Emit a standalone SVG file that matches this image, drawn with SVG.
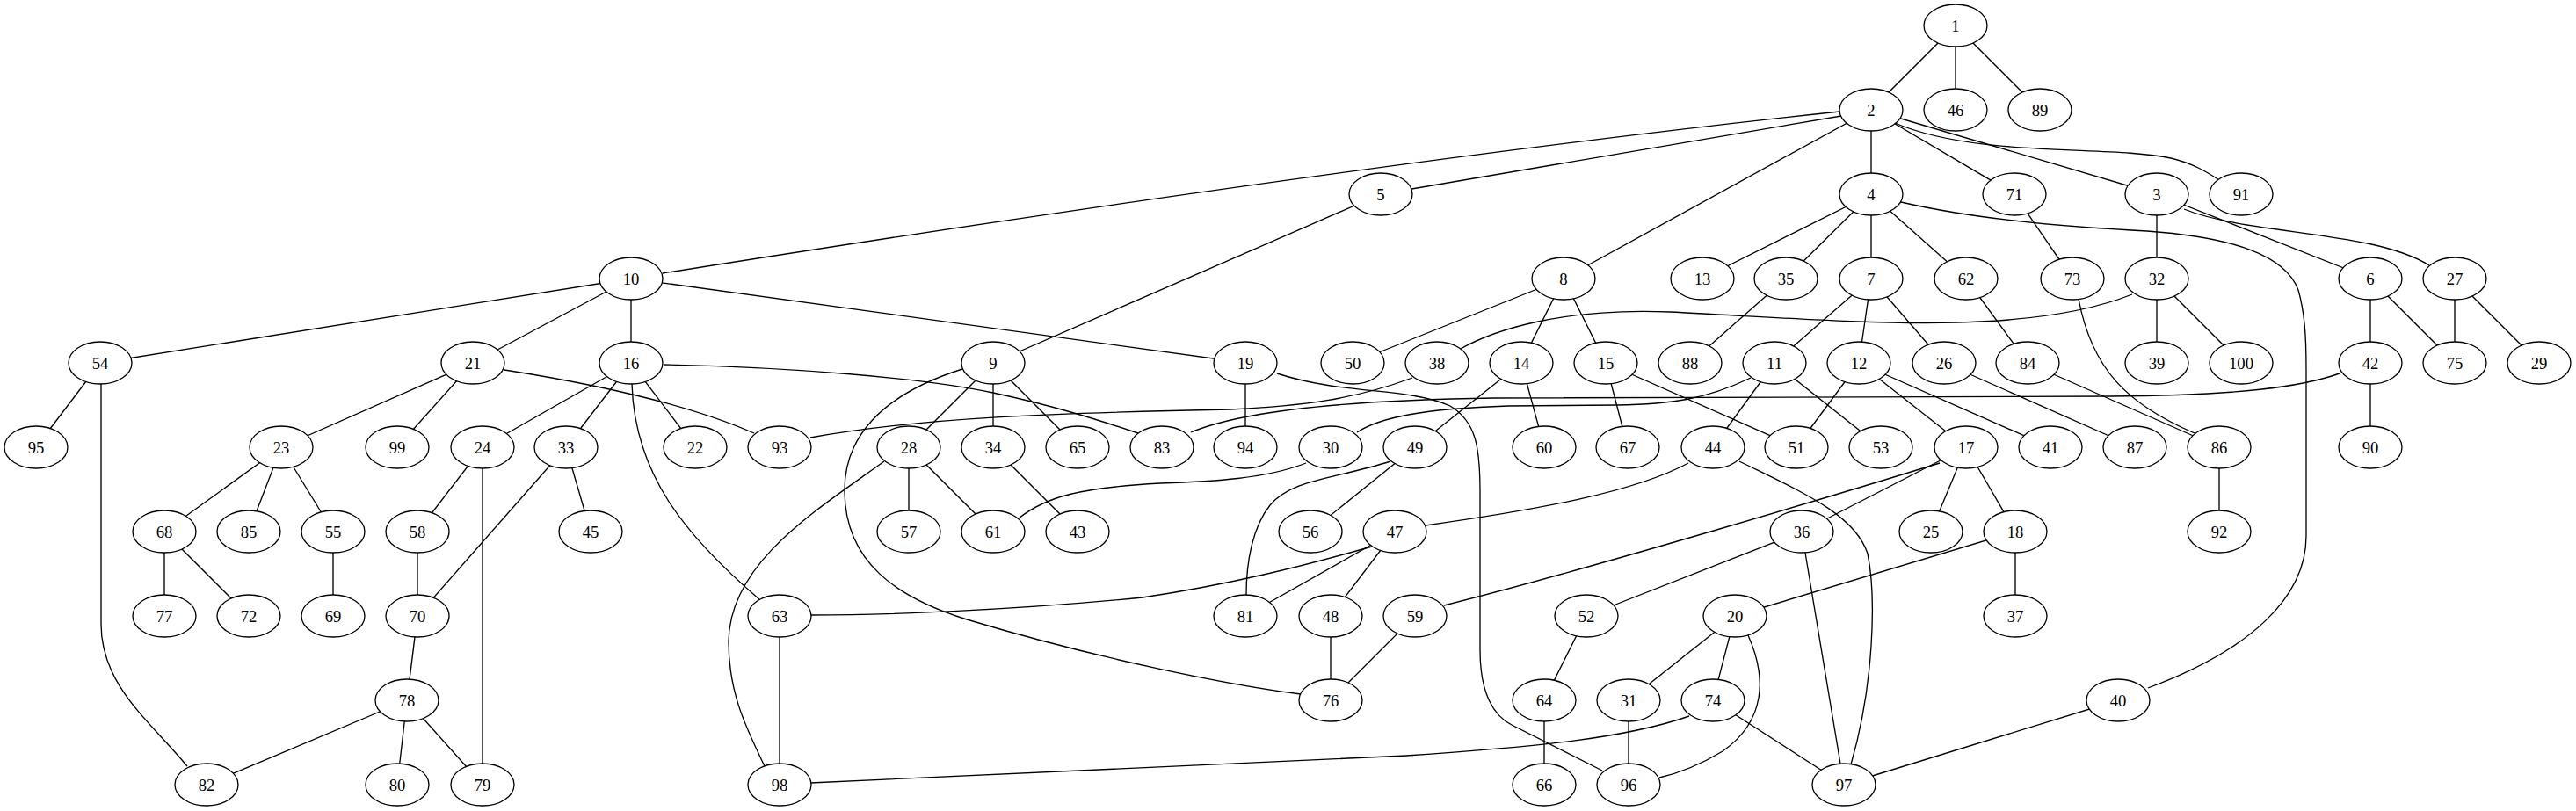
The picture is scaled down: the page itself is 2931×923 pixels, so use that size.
<svg xmlns="http://www.w3.org/2000/svg" width="2931" height="923" viewBox="0 0 2931 923">
<style>
.n ellipse{fill:#fff;stroke:#000;stroke-width:1.33}
.n text{font-family:"Liberation Serif","Times New Roman",serif;font-size:18.67px;text-anchor:middle;fill:#000}
#edges path{fill:none;stroke:#000;stroke-width:1.33}
</style>
<rect width="2931" height="923" fill="#fff"/>
<g id="edges">
<path d="M2225,29L2129,125"/><path d="M2225,29L2225,125"/><path d="M2225,29L2321,125"/>
<path d="M2095,132L1571,221"/><path d="M2093,127Q1550,185 754,311"/><path d="M2129,125L1779,317"/>
<path d="M2129,125L2129,221"/><path d="M2129,125L2292,221"/><path d="M2129,125L2454,221"/>
<path d="M2156,140C2250,180 2400,165 2470,180C2495,186 2510,195 2525,205"/>
<path d="M1571,221L1130,413"/>
<path d="M2129,221L1937,317"/><path d="M2129,221L2032,317"/><path d="M2129,221L2129,317"/><path d="M2129,221L2237,317"/>
<path d="M2163,230C2250,250 2350,258 2443,263C2540,270 2600,290 2615,330C2622,355 2624,380 2624,420L2624,610C2624,680 2560,740 2444,783"/>
<path d="M2454,221L2454,317"/><path d="M2454,221L2697,317"/>
<path d="M2485,238C2560,268 2700,262 2764,302"/>
<path d="M2292,221L2358,317"/>
<path d="M718,317L114,413"/><path d="M718,317L538,413"/><path d="M718,317L718,413"/><path d="M718,317L1417,413"/>
<path d="M1779,317L1539,413"/><path d="M1779,317L1731,413"/><path d="M1779,317L1827,413"/>
<path d="M2032,317L1923,413"/>
<path d="M2129,317L2019,413"/><path d="M2129,317L2115,413"/><path d="M2129,317L2212,413"/>
<path d="M2237,317L2307,413"/>
<path d="M2365,340C2380,420 2420,460 2497,493"/>
<path d="M2426,335C2300,385 2100,365 1900,355C1780,350 1700,375 1660,398"/>
<path d="M2454,317L2454,413"/><path d="M2454,317L2550,413"/>
<path d="M2697,317L2697,413"/><path d="M2697,317L2793,413"/>
<path d="M2793,317L2793,413"/><path d="M2793,317L2889,413"/>
<path d="M114,413L41,509"/>
<path d="M115,437L115,710C115,780 170,820 213,872"/>
<path d="M538,413L320,509"/><path d="M538,413L452,509"/>
<path d="M574,421Q760,450 858,493"/>
<path d="M718,413L549,509"/><path d="M718,413L644,509"/><path d="M718,413L791,509"/>
<path d="M719,437C722,540 780,610 865,683"/>
<path d="M755,415C900,418 1050,430 1130,447C1200,462 1250,478 1295,493"/>
<path d="M1130,413L1034,509"/><path d="M1130,413L1130,509"/><path d="M1130,413L1226,509"/>
<path d="M1095,420C1000,450 960,500 961,560C962,640 1020,680 1100,705C1250,750 1400,780 1480,790"/>
<path d="M1417,413L1417,509"/>
<path d="M1453,425C1530,450 1600,440 1650,462C1680,480 1684,510 1684,560L1684,740C1684,790 1700,815 1720,825L1823,877"/>
<path d="M1607,430C1540,455 1480,462 1400,466C1200,470 1050,475 922,498"/>
<path d="M1731,413L1610,509"/><path d="M1731,413L1757,509"/>
<path d="M1827,413L1852,509"/><path d="M1827,413L2044,509"/>
<path d="M2019,413L1949,509"/><path d="M2019,413L2140,509"/>
<path d="M1992,430C1940,455 1900,460 1840,461L1716,462C1620,465 1570,475 1544,492"/>
<path d="M2115,413L2044,509"/><path d="M2115,413L2237,509"/><path d="M2115,413L2333,509"/>
<path d="M2212,413L2429,509"/>
<path d="M2307,413L2525,509"/>
<path d="M2662,425C2620,440 2550,450 2400,451L1700,453C1560,455 1420,465 1355,492"/>
<path d="M2697,413L2697,509"/>
<path d="M2525,509L2525,605"/>
<path d="M320,509L187,605"/><path d="M320,509L283,605"/><path d="M320,509L379,605"/>
<path d="M549,509L475,605"/><path d="M549,509L549,893"/>
<path d="M644,509L475,701"/><path d="M644,509L672,605"/>
<path d="M1034,509L1034,605"/><path d="M1034,509L1130,605"/>
<path d="M1006,525C930,580 830,640 829,730C829,790 850,830 870,872"/>
<path d="M1130,509L1226,605"/>
<path d="M1486,527C1440,545 1380,548 1320,550C1230,555 1190,565 1159,590"/>
<path d="M1610,509L1491,605"/>
<path d="M1582,525C1520,545 1470,545 1445,575C1425,600 1418,640 1418,677"/>
<path d="M1921,527C1860,560 1750,580 1622,598"/>
<path d="M1979,525C2050,560 2110,585 2125,630C2135,680 2132,780 2106,870"/>
<path d="M2207,527C2100,560 1800,650 1643,689"/>
<path d="M2237,509L2050,605"/><path d="M2237,509L2197,605"/><path d="M2237,509L2293,605"/>
<path d="M1561,622C1480,645 1400,665 1300,680C1150,695 1000,700 923,700"/>
<path d="M1587,605L1417,701"/><path d="M1587,605L1514,701"/>
<path d="M2050,605L1805,701"/><path d="M2050,605L2098,893"/>
<path d="M2293,605L1974,701"/><path d="M2293,605L2293,701"/>
<path d="M187,605L187,701"/><path d="M187,605L283,701"/>
<path d="M379,605L379,701"/>
<path d="M475,605L475,701"/>
<path d="M475,701L463,797"/>
<path d="M887,701L887,893"/>
<path d="M1514,701L1514,797"/>
<path d="M1610,701L1514,797"/>
<path d="M1805,701L1757,797"/>
<path d="M1974,701L1853,797"/><path d="M1974,701L1949,797"/>
<path d="M1989,723C2010,770 2010,820 1960,855C1935,870 1910,880 1888,885"/>
<path d="M1757,797L1757,893"/>
<path d="M1853,797L1853,893"/>
<path d="M1922,815C1850,840 1750,850 1600,860C1300,875 1100,885 922,891"/>
<path d="M1949,797L2098,893"/>
<path d="M2410,797L2098,893"/>
<path d="M463,797L235,893"/><path d="M463,797L452,893"/><path d="M463,797L549,893"/>
</g>
<g id="node1" class="n"><ellipse cx="2225" cy="29" rx="36" ry="24"/><text x="2225" y="35.5">1</text></g>
<g id="node2" class="n"><ellipse cx="2129" cy="125" rx="36" ry="24"/><text x="2129" y="131.5">2</text></g>
<g id="node3" class="n"><ellipse cx="2454" cy="221" rx="36" ry="24"/><text x="2454" y="227.5">3</text></g>
<g id="node4" class="n"><ellipse cx="2129" cy="221" rx="36" ry="24"/><text x="2129" y="227.5">4</text></g>
<g id="node5" class="n"><ellipse cx="1571" cy="221" rx="36" ry="24"/><text x="1571" y="227.5">5</text></g>
<g id="node6" class="n"><ellipse cx="2697" cy="317" rx="36" ry="24"/><text x="2697" y="323.5">6</text></g>
<g id="node7" class="n"><ellipse cx="2129" cy="317" rx="36" ry="24"/><text x="2129" y="323.5">7</text></g>
<g id="node8" class="n"><ellipse cx="1779" cy="317" rx="36" ry="24"/><text x="1779" y="323.5">8</text></g>
<g id="node9" class="n"><ellipse cx="1130" cy="413" rx="36" ry="24"/><text x="1130" y="419.5">9</text></g>
<g id="node10" class="n"><ellipse cx="718" cy="317" rx="36" ry="24"/><text x="718" y="323.5">10</text></g>
<g id="node11" class="n"><ellipse cx="2019" cy="413" rx="36" ry="24"/><text x="2019" y="419.5">11</text></g>
<g id="node12" class="n"><ellipse cx="2115" cy="413" rx="36" ry="24"/><text x="2115" y="419.5">12</text></g>
<g id="node13" class="n"><ellipse cx="1937" cy="317" rx="36" ry="24"/><text x="1937" y="323.5">13</text></g>
<g id="node14" class="n"><ellipse cx="1731" cy="413" rx="36" ry="24"/><text x="1731" y="419.5">14</text></g>
<g id="node15" class="n"><ellipse cx="1827" cy="413" rx="36" ry="24"/><text x="1827" y="419.5">15</text></g>
<g id="node16" class="n"><ellipse cx="718" cy="413" rx="36" ry="24"/><text x="718" y="419.5">16</text></g>
<g id="node17" class="n"><ellipse cx="2237" cy="509" rx="36" ry="24"/><text x="2237" y="515.5">17</text></g>
<g id="node18" class="n"><ellipse cx="2293" cy="605" rx="36" ry="24"/><text x="2293" y="611.5">18</text></g>
<g id="node19" class="n"><ellipse cx="1417" cy="413" rx="36" ry="24"/><text x="1417" y="419.5">19</text></g>
<g id="node20" class="n"><ellipse cx="1974" cy="701" rx="36" ry="24"/><text x="1974" y="707.5">20</text></g>
<g id="node21" class="n"><ellipse cx="538" cy="413" rx="36" ry="24"/><text x="538" y="419.5">21</text></g>
<g id="node22" class="n"><ellipse cx="791" cy="509" rx="36" ry="24"/><text x="791" y="515.5">22</text></g>
<g id="node23" class="n"><ellipse cx="320" cy="509" rx="36" ry="24"/><text x="320" y="515.5">23</text></g>
<g id="node24" class="n"><ellipse cx="549" cy="509" rx="36" ry="24"/><text x="549" y="515.5">24</text></g>
<g id="node25" class="n"><ellipse cx="2197" cy="605" rx="36" ry="24"/><text x="2197" y="611.5">25</text></g>
<g id="node26" class="n"><ellipse cx="2212" cy="413" rx="36" ry="24"/><text x="2212" y="419.5">26</text></g>
<g id="node27" class="n"><ellipse cx="2793" cy="317" rx="36" ry="24"/><text x="2793" y="323.5">27</text></g>
<g id="node28" class="n"><ellipse cx="1034" cy="509" rx="36" ry="24"/><text x="1034" y="515.5">28</text></g>
<g id="node29" class="n"><ellipse cx="2889" cy="413" rx="36" ry="24"/><text x="2889" y="419.5">29</text></g>
<g id="node30" class="n"><ellipse cx="1514" cy="509" rx="36" ry="24"/><text x="1514" y="515.5">30</text></g>
<g id="node31" class="n"><ellipse cx="1853" cy="797" rx="36" ry="24"/><text x="1853" y="803.5">31</text></g>
<g id="node32" class="n"><ellipse cx="2454" cy="317" rx="36" ry="24"/><text x="2454" y="323.5">32</text></g>
<g id="node33" class="n"><ellipse cx="644" cy="509" rx="36" ry="24"/><text x="644" y="515.5">33</text></g>
<g id="node34" class="n"><ellipse cx="1130" cy="509" rx="36" ry="24"/><text x="1130" y="515.5">34</text></g>
<g id="node35" class="n"><ellipse cx="2032" cy="317" rx="36" ry="24"/><text x="2032" y="323.5">35</text></g>
<g id="node36" class="n"><ellipse cx="2050" cy="605" rx="36" ry="24"/><text x="2050" y="611.5">36</text></g>
<g id="node37" class="n"><ellipse cx="2293" cy="701" rx="36" ry="24"/><text x="2293" y="707.5">37</text></g>
<g id="node38" class="n"><ellipse cx="1635" cy="413" rx="36" ry="24"/><text x="1635" y="419.5">38</text></g>
<g id="node39" class="n"><ellipse cx="2454" cy="413" rx="36" ry="24"/><text x="2454" y="419.5">39</text></g>
<g id="node40" class="n"><ellipse cx="2410" cy="797" rx="36" ry="24"/><text x="2410" y="803.5">40</text></g>
<g id="node41" class="n"><ellipse cx="2333" cy="509" rx="36" ry="24"/><text x="2333" y="515.5">41</text></g>
<g id="node42" class="n"><ellipse cx="2697" cy="413" rx="36" ry="24"/><text x="2697" y="419.5">42</text></g>
<g id="node43" class="n"><ellipse cx="1226" cy="605" rx="36" ry="24"/><text x="1226" y="611.5">43</text></g>
<g id="node44" class="n"><ellipse cx="1949" cy="509" rx="36" ry="24"/><text x="1949" y="515.5">44</text></g>
<g id="node45" class="n"><ellipse cx="672" cy="605" rx="36" ry="24"/><text x="672" y="611.5">45</text></g>
<g id="node46" class="n"><ellipse cx="2225" cy="125" rx="36" ry="24"/><text x="2225" y="131.5">46</text></g>
<g id="node47" class="n"><ellipse cx="1587" cy="605" rx="36" ry="24"/><text x="1587" y="611.5">47</text></g>
<g id="node48" class="n"><ellipse cx="1514" cy="701" rx="36" ry="24"/><text x="1514" y="707.5">48</text></g>
<g id="node49" class="n"><ellipse cx="1610" cy="509" rx="36" ry="24"/><text x="1610" y="515.5">49</text></g>
<g id="node50" class="n"><ellipse cx="1539" cy="413" rx="36" ry="24"/><text x="1539" y="419.5">50</text></g>
<g id="node51" class="n"><ellipse cx="2044" cy="509" rx="36" ry="24"/><text x="2044" y="515.5">51</text></g>
<g id="node52" class="n"><ellipse cx="1805" cy="701" rx="36" ry="24"/><text x="1805" y="707.5">52</text></g>
<g id="node53" class="n"><ellipse cx="2140" cy="509" rx="36" ry="24"/><text x="2140" y="515.5">53</text></g>
<g id="node54" class="n"><ellipse cx="114" cy="413" rx="36" ry="24"/><text x="114" y="419.5">54</text></g>
<g id="node55" class="n"><ellipse cx="379" cy="605" rx="36" ry="24"/><text x="379" y="611.5">55</text></g>
<g id="node56" class="n"><ellipse cx="1491" cy="605" rx="36" ry="24"/><text x="1491" y="611.5">56</text></g>
<g id="node57" class="n"><ellipse cx="1034" cy="605" rx="36" ry="24"/><text x="1034" y="611.5">57</text></g>
<g id="node58" class="n"><ellipse cx="475" cy="605" rx="36" ry="24"/><text x="475" y="611.5">58</text></g>
<g id="node59" class="n"><ellipse cx="1610" cy="701" rx="36" ry="24"/><text x="1610" y="707.5">59</text></g>
<g id="node60" class="n"><ellipse cx="1757" cy="509" rx="36" ry="24"/><text x="1757" y="515.5">60</text></g>
<g id="node61" class="n"><ellipse cx="1130" cy="605" rx="36" ry="24"/><text x="1130" y="611.5">61</text></g>
<g id="node62" class="n"><ellipse cx="2237" cy="317" rx="36" ry="24"/><text x="2237" y="323.5">62</text></g>
<g id="node63" class="n"><ellipse cx="887" cy="701" rx="36" ry="24"/><text x="887" y="707.5">63</text></g>
<g id="node64" class="n"><ellipse cx="1757" cy="797" rx="36" ry="24"/><text x="1757" y="803.5">64</text></g>
<g id="node65" class="n"><ellipse cx="1226" cy="509" rx="36" ry="24"/><text x="1226" y="515.5">65</text></g>
<g id="node66" class="n"><ellipse cx="1757" cy="893" rx="36" ry="24"/><text x="1757" y="899.5">66</text></g>
<g id="node67" class="n"><ellipse cx="1852" cy="509" rx="36" ry="24"/><text x="1852" y="515.5">67</text></g>
<g id="node68" class="n"><ellipse cx="187" cy="605" rx="36" ry="24"/><text x="187" y="611.5">68</text></g>
<g id="node69" class="n"><ellipse cx="379" cy="701" rx="36" ry="24"/><text x="379" y="707.5">69</text></g>
<g id="node70" class="n"><ellipse cx="475" cy="701" rx="36" ry="24"/><text x="475" y="707.5">70</text></g>
<g id="node71" class="n"><ellipse cx="2292" cy="221" rx="36" ry="24"/><text x="2292" y="227.5">71</text></g>
<g id="node72" class="n"><ellipse cx="283" cy="701" rx="36" ry="24"/><text x="283" y="707.5">72</text></g>
<g id="node73" class="n"><ellipse cx="2358" cy="317" rx="36" ry="24"/><text x="2358" y="323.5">73</text></g>
<g id="node74" class="n"><ellipse cx="1949" cy="797" rx="36" ry="24"/><text x="1949" y="803.5">74</text></g>
<g id="node75" class="n"><ellipse cx="2793" cy="413" rx="36" ry="24"/><text x="2793" y="419.5">75</text></g>
<g id="node76" class="n"><ellipse cx="1514" cy="797" rx="36" ry="24"/><text x="1514" y="803.5">76</text></g>
<g id="node77" class="n"><ellipse cx="187" cy="701" rx="36" ry="24"/><text x="187" y="707.5">77</text></g>
<g id="node78" class="n"><ellipse cx="463" cy="797" rx="36" ry="24"/><text x="463" y="803.5">78</text></g>
<g id="node79" class="n"><ellipse cx="549" cy="893" rx="36" ry="24"/><text x="549" y="899.5">79</text></g>
<g id="node80" class="n"><ellipse cx="452" cy="893" rx="36" ry="24"/><text x="452" y="899.5">80</text></g>
<g id="node81" class="n"><ellipse cx="1417" cy="701" rx="36" ry="24"/><text x="1417" y="707.5">81</text></g>
<g id="node82" class="n"><ellipse cx="235" cy="893" rx="36" ry="24"/><text x="235" y="899.5">82</text></g>
<g id="node83" class="n"><ellipse cx="1322" cy="509" rx="36" ry="24"/><text x="1322" y="515.5">83</text></g>
<g id="node84" class="n"><ellipse cx="2307" cy="413" rx="36" ry="24"/><text x="2307" y="419.5">84</text></g>
<g id="node85" class="n"><ellipse cx="283" cy="605" rx="36" ry="24"/><text x="283" y="611.5">85</text></g>
<g id="node86" class="n"><ellipse cx="2525" cy="509" rx="36" ry="24"/><text x="2525" y="515.5">86</text></g>
<g id="node87" class="n"><ellipse cx="2429" cy="509" rx="36" ry="24"/><text x="2429" y="515.5">87</text></g>
<g id="node88" class="n"><ellipse cx="1923" cy="413" rx="36" ry="24"/><text x="1923" y="419.5">88</text></g>
<g id="node89" class="n"><ellipse cx="2321" cy="125" rx="36" ry="24"/><text x="2321" y="131.5">89</text></g>
<g id="node90" class="n"><ellipse cx="2697" cy="509" rx="36" ry="24"/><text x="2697" y="515.5">90</text></g>
<g id="node91" class="n"><ellipse cx="2550" cy="221" rx="36" ry="24"/><text x="2550" y="227.5">91</text></g>
<g id="node92" class="n"><ellipse cx="2525" cy="605" rx="36" ry="24"/><text x="2525" y="611.5">92</text></g>
<g id="node93" class="n"><ellipse cx="887" cy="509" rx="36" ry="24"/><text x="887" y="515.5">93</text></g>
<g id="node94" class="n"><ellipse cx="1417" cy="509" rx="36" ry="24"/><text x="1417" y="515.5">94</text></g>
<g id="node95" class="n"><ellipse cx="41" cy="509" rx="36" ry="24"/><text x="41" y="515.5">95</text></g>
<g id="node96" class="n"><ellipse cx="1853" cy="893" rx="36" ry="24"/><text x="1853" y="899.5">96</text></g>
<g id="node97" class="n"><ellipse cx="2098" cy="893" rx="36" ry="24"/><text x="2098" y="899.5">97</text></g>
<g id="node98" class="n"><ellipse cx="887" cy="893" rx="36" ry="24"/><text x="887" y="899.5">98</text></g>
<g id="node99" class="n"><ellipse cx="452" cy="509" rx="36" ry="24"/><text x="452" y="515.5">99</text></g>
<g id="node100" class="n"><ellipse cx="2550" cy="413" rx="36" ry="24"/><text x="2550" y="419.5">100</text></g>
</svg>
